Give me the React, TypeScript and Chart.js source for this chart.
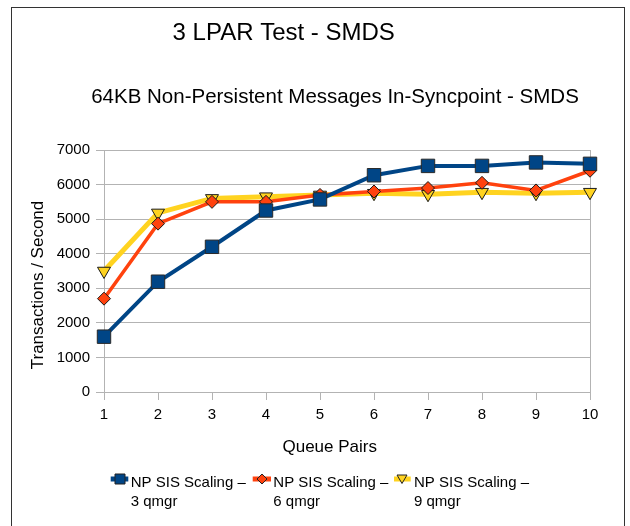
import React, { useEffect, useRef } from "react";
import { Chart, registerables } from "chart.js";

Chart.register(...registerables);

const categories = ["1", "2", "3", "4", "5", "6", "7", "8", "9", "10"];
const seriesNames = [
  ["NP SIS Scaling –", "3 qmgr"],
  ["NP SIS Scaling –", "6 qmgr"],
  ["NP SIS Scaling –", "9 qmgr"],
];
const qmgr3 = [1600, 3190, 4200, 5250, 5570, 6270, 6540, 6540, 6640, 6600];
const qmgr6 = [2700, 4870, 5500, 5500, 5700, 5800, 5900, 6050, 5830, 6400];
const qmgr9 = [3500, 5180, 5600, 5650, 5700, 5750, 5720, 5780, 5750, 5780];
const titleText = "3 LPAR Test - SMDS";
const subtitleText = "64KB Non-Persistent Messages In-Syncpoint - SMDS";
const xTitle = "Queue Pairs";
const yTitle = "Transactions / Second";

const BLUE = "#004586";
const ORANGE = "#ff420e";
const YELLOW = "#ffd320";
const GRID = "#b3b3b3";
const FONT = "'Liberation Sans', Arial, sans-serif";

const decorPlugin = {
  id: "decor",
  beforeDraw(chart: any) {
    const ctx = chart.ctx;
    ctx.save();
    ctx.fillStyle = "#ffffff";
    ctx.fillRect(0, 0, chart.width, chart.height);
    ctx.strokeStyle = "#333333";
    ctx.lineWidth = 1;
    ctx.strokeRect(11.5, 7.5, 613, 600);
    ctx.restore();
  },
  afterDraw(chart: any) {
    const ctx = chart.ctx;
    ctx.save();
    ctx.fillStyle = "#000000";
    ctx.textBaseline = "alphabetic";
    ctx.textAlign = "center";
    ctx.font = `24px ${FONT}`;
    ctx.fillText(titleText, 283.7, 40);
    ctx.font = `20.5px ${FONT}`;
    ctx.fillText(subtitleText, 335, 103.3);
    ctx.font = `17px ${FONT}`;
    ctx.fillText(xTitle, 329.7, 451.7);
    ctx.save();
    ctx.translate(42.5, 285);
    ctx.rotate(-Math.PI / 2);
    ctx.fillText(yTitle, 0, 0);
    ctx.restore();

    // legend
    const items = [
      { lx0: 110.7, lx1: 128.3, cx: 120, tx: 130.7, color: BLUE, shape: "rect" },
      { lx0: 252.7, lx1: 271, cx: 262, tx: 273.3, color: ORANGE, shape: "diamond" },
      { lx0: 394, lx1: 410.7, cx: 402, tx: 414, color: YELLOW, shape: "tri" },
    ];
    const ly = 479;
    items.forEach((it, i) => {
      ctx.strokeStyle = it.color;
      ctx.lineWidth = 5;
      ctx.beginPath();
      ctx.moveTo(it.lx0, ly);
      ctx.lineTo(it.lx1, ly);
      ctx.stroke();
      ctx.fillStyle = it.color;
      ctx.strokeStyle = "#222222";
      ctx.lineWidth = 1;
      ctx.beginPath();
      if (it.shape === "rect") {
        ctx.rect(it.cx - 5, ly - 5, 10, 10);
      } else if (it.shape === "diamond") {
        ctx.moveTo(it.cx, ly - 5);
        ctx.lineTo(it.cx + 5, ly);
        ctx.lineTo(it.cx, ly + 5);
        ctx.lineTo(it.cx - 5, ly);
        ctx.closePath();
      } else {
        ctx.moveTo(it.cx - 5, ly - 4);
        ctx.lineTo(it.cx + 5, ly - 4);
        ctx.lineTo(it.cx, ly + 4.5);
        ctx.closePath();
      }
      ctx.fill();
      ctx.stroke();
      ctx.fillStyle = "#000000";
      ctx.textAlign = "left";
      ctx.font = `15px ${FONT}`;
      ctx.fillText(seriesNames[i][0], it.tx, 487);
      ctx.fillText(seriesNames[i][1], it.tx, 506);
    });
    ctx.restore();
  },
};

export default function App() {
  const ref = useRef<HTMLCanvasElement | null>(null);
  useEffect(() => {
    if (!ref.current) return;
    const chart = new Chart(ref.current, {
      type: "line",
      data: {
        labels: categories,
        datasets: [
          {
            label: seriesNames[0].join(" "),
            data: qmgr3,
            borderColor: BLUE,
            backgroundColor: BLUE,
            borderWidth: 4,
            pointStyle: "rect",
            pointRadius: 9.5,
            pointBorderColor: "#2a2a2a",
            pointBorderWidth: 1,
            pointBackgroundColor: BLUE,
            tension: 0,
            clip: false,
          },
          {
            label: seriesNames[1].join(" "),
            data: qmgr6,
            borderColor: ORANGE,
            backgroundColor: ORANGE,
            borderWidth: 3.5,
            pointStyle: "rectRot",
            pointRadius: 6.5,
            pointBorderColor: "#1a1a1a",
            pointBorderWidth: 1,
            pointBackgroundColor: ORANGE,
            tension: 0,
            clip: false,
          },
          {
            label: seriesNames[2].join(" "),
            data: qmgr9,
            borderColor: YELLOW,
            backgroundColor: YELLOW,
            borderWidth: 5,
            pointStyle: "triangle",
            pointRotation: 180,
            pointRadius: 7.5,
            pointBorderColor: "#1a1a1a",
            pointBorderWidth: 1,
            pointBackgroundColor: YELLOW,
            tension: 0,
            clip: false,
          },
        ],
      },
      options: {
        responsive: false,
        animation: false,
        events: [],
        layout: {
          autoPadding: false,
          padding: { top: 150, right: 40, bottom: 104, left: 0 },
        },
        plugins: {
          legend: { display: false },
          title: { display: false },
          tooltip: { enabled: false },
        },
        scales: {
          x: {
            type: "category",
            offset: false,
            afterFit: (s: any) => {
              s.height = 30;
              s.paddingLeft = 0;
              s.paddingRight = 0;
            },
            grid: {
              color: (c: any) =>
                c.index === 0 || c.index === categories.length - 1 ? GRID : "rgba(0,0,0,0)",
              tickColor: GRID,
              tickLength: 8,
              lineWidth: 1,
            },
            border: { display: true, color: GRID },
            ticks: {
              color: "#000000",
              font: { family: FONT, size: 15 },
              padding: 6,
              maxRotation: 0,
              autoSkip: false,
            },
          },
          y: {
            min: 0,
            max: 7000,
            afterFit: (s: any) => {
              s.width = 104;
              s.paddingTop = 0;
              s.paddingBottom = 0;
            },
            grid: { color: GRID, tickColor: GRID, tickLength: 8, lineWidth: 1 },
            border: { display: true, color: GRID },
            ticks: {
              stepSize: 1000,
              color: "#000000",
              font: { family: FONT, size: 15 },
              padding: 6,
              callback: (v: any) => String(v),
            },
          },
        },
      },
      plugins: [decorPlugin],
    });
    return () => chart.destroy();
  }, []);
  return (
    <div style={{ position: "fixed", left: 0, top: 0, width: 630, height: 526, overflow: "hidden", background: "#fff" }}>
      <canvas ref={ref} width={630} height={526} style={{ display: "block", width: 630, height: 526 }} />
    </div>
  );
}
